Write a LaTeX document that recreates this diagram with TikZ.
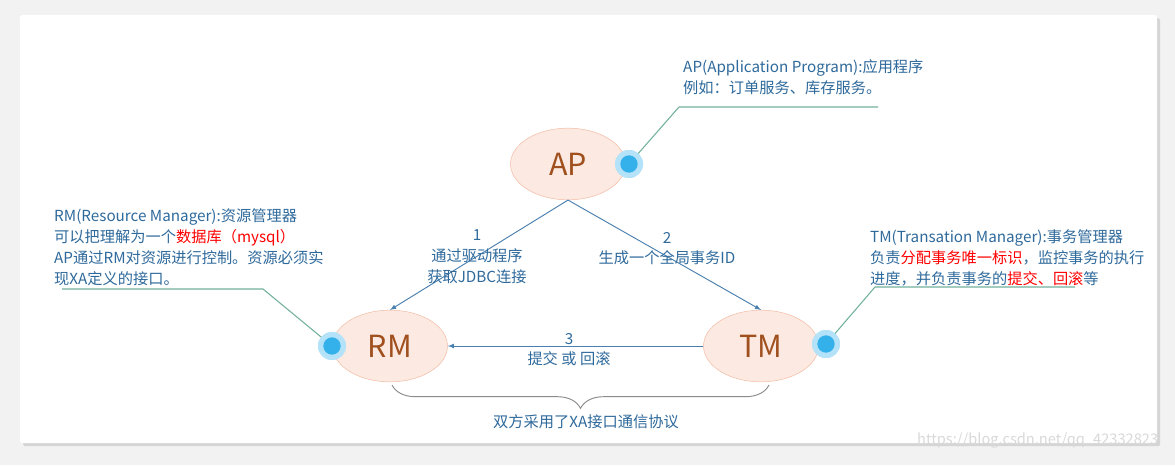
\documentclass[tikz,border=0pt]{standalone}
\usepackage{fontspec}
\setmainfont{Noto Sans CJK SC}
\usetikzlibrary{arrows,shapes.geometric,decorations.pathreplacing,shadows,positioning}

\definecolor{txtblue}{HTML}{2F6A9C}
\definecolor{lineblue}{HTML}{4A80B0}
\definecolor{leadgreen}{HTML}{72B09C}
\definecolor{nodefill}{HTML}{FCEAE2}
\definecolor{nodeedge}{HTML}{F2B8A0}
\definecolor{nodetxt}{HTML}{A0501E}
\definecolor{dotin}{HTML}{34B0EA}
\definecolor{dotout}{HTML}{B4E2F8}

\tikzset{
  role/.style={ellipse, draw=nodeedge, fill=nodefill, minimum width=3.45cm, minimum height=2.15cm,
    text=nodetxt, font=\fontsize{26}{26}\selectfont},
  knob/.style={circle, fill=dotout, inner sep=0pt, minimum size=0.84cm,
    path picture={\fill[dotin] (path picture bounding box.center) circle (0.26cm);}},
  note/.style={anchor=base west, align=left, inner sep=0pt, text=txtblue,
    font=\fontsize{13}{17.9}\selectfont},
  lbl/.style={inner sep=0pt, text=txtblue, font=\fontsize{13}{18}\selectfont},
  lead/.style={leadgreen, line width=0.9pt},
  flow/.style={lineblue, line width=0.8pt, -latex}
}

\begin{document}
\begin{tikzpicture}[x=0.03cm,y=-0.03cm]
        \useasboundingbox[fill=black!5] (0,0) rectangle (1175,465);
        \fill[white, rounded corners=2pt, drop shadow={opacity=0.25}] (20,15) rectangle (1157,443);

        % the three roles
        \node[role] (ap) at (568,164) {AP};
        \node[role] (rm) at (390,346) {RM};
        \node[role] (tm) at (761,346) {TM};

        \node[knob] (apdot) at (629,164) {};
        \node[knob] (rmdot) at (332,346) {};
        \node[knob] (tmdot) at (826,344) {};

        % notes and their leaders (anchored at the last line)
        \node[note] (apnote) at (683,93) {AP(Application Program):应用程序\\例如：订单服务、库存服务。};
        \node[note] (rmnote) at (54,284) {RM(Resource Manager):资源管理器\\可以把理解为一个\textcolor{red}{数据库（mysql）}\\AP通过RM对资源进行控制。资源必须实\\现XA定义的接口。};
        \node[note] (tmnote) at (870,284) {TM(Transation Manager):事务管理器\\负责\textcolor{red}{分配事务唯一标识}，监控事务的执行\\进度，并负责事务的\textcolor{red}{提交、回滚}等};

        \coordinate (apbend) at (679,107);
        \coordinate (apend) at (878,107);
        \coordinate (rmbend) at (263,289);
        \coordinate (rmend) at (62,289);
        \coordinate (tmbend) at (875,287);
        \coordinate (tmend) at (1075,287);

        \draw[lead] (apdot.center) -- (apbend) -- (apend);
        \draw[lead] (rmdot.center) -- (rmbend) -- (rmend);
        \draw[lead] (tmdot.center) -- (tmbend) -- (tmend);
        \node[knob] at (apdot) {};
        \node[knob] at (rmdot) {};
        \node[knob] at (tmdot) {};

        % steps
        \draw[flow] (ap.south) -- (rm.north);
        \draw[flow] (ap.south) -- (tm.north);
        \draw[flow] (tm.west) -- (rm.east);

        \node[lbl] (one) at (477,235) {1};
        \node[lbl] (onea) at (477,256) {通过驱动程序};
        \node[lbl] (oneb) at (477,277) {获取JDBC连接};
        \node[lbl] (two) at (667,238) {2};
        \node[lbl] (twoa) at (667,258) {生成一个全局事务ID};
        \node[lbl] (three) at (569,339) {3};
        \node[lbl] (threea) at (569,359) {提交 或 回滚};

        % brace under RM and TM
        \coordinate (bl) at (392,385);
        \coordinate (br) at (769,385);
        \draw[black!45, line width=0.8pt, decorate, decoration={brace, mirror, amplitude=0.7cm}] (bl) -- (br);
        \node[lbl] (xa) at (586,422) {双方采用了XA接口通信协议};

        \begin{scope}
          \clip (20,15) rectangle (1157,465);
          \node[anchor=base west, inner sep=0pt, text=black!15, font=\fontsize{12.5}{15}\selectfont] (mark) at (917,444) {https://blog.csdn.net/qq\_42332823};
        \end{scope}
\end{tikzpicture}
\end{document}
